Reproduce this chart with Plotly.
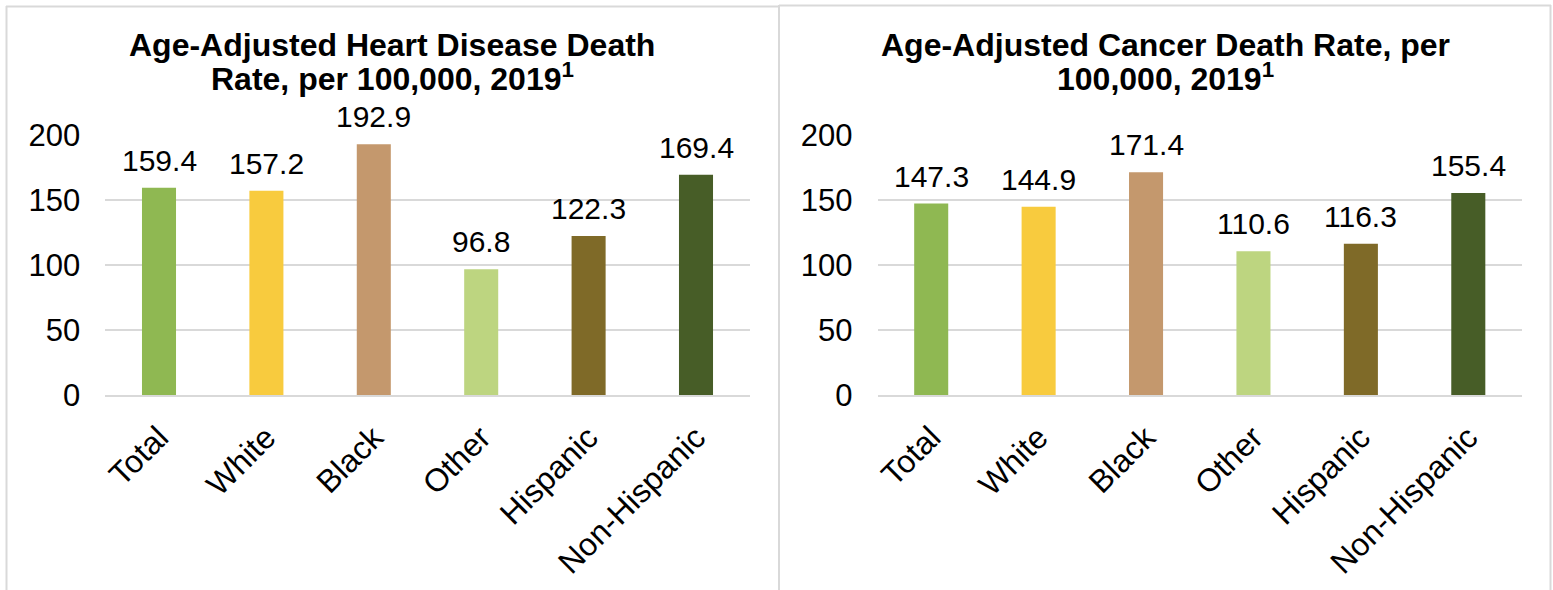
import plotly.graph_objects as go

W, H = 1553, 590

categories = ["Total", "White", "Black", "Other", "Hispanic", "Non-Hispanic"]
heart_values = [159.4, 157.2, 192.9, 96.8, 122.3, 169.4]
cancer_values = [147.3, 144.9, 171.4, 110.6, 116.3, 155.4]
bar_colors = ["#8FB852", "#F8CB3E", "#C4986D", "#BDD580", "#7F6A28", "#475D27"]
y_ticks = [0, 50, 100, 150, 200]

heart_title = ["Age-Adjusted Heart Disease Death", "Rate, per 100,000, 2019<sup>1</sup>"]
cancer_title = ["Age-Adjusted Cancer Death Rate, per", "100,000, 2019<sup>1</sup>"]

FONT = "Liberation Sans, Arial, sans-serif"
GRID = "#D9D9D9"


def px(x):
    return x / W


def py(y):
    return 1 - y / H


fig = go.Figure()
fig.add_trace(go.Bar(x=categories, y=heart_values, marker_color=bar_colors,
                     xaxis="x", yaxis="y", hoverinfo="x+y"))
fig.add_trace(go.Bar(x=categories, y=cancer_values, marker_color=bar_colors,
                     xaxis="x2", yaxis="y2", hoverinfo="x+y"))

annotations = []
for xr, yr, vals in (("x", "y", heart_values), ("x2", "y2", cancer_values)):
    for c, v in zip(categories, vals):
        annotations.append(dict(x=c, y=v, xref=xr, yref=yr, text=f"{v:.1f}",
                                showarrow=False, yanchor="bottom", yshift=9,
                                font=dict(family=FONT, size=30, color="#000000")))

for lines, cx in ((heart_title, 392), (cancer_title, 1165)):
    for i, t in enumerate(lines):
        annotations.append(dict(x=px(cx), y=py(45 + 32 * i), xref="paper", yref="paper",
                                text=f"<b>{t}</b>", showarrow=False,
                                xanchor="center", yanchor="middle",
                                font=dict(family=FONT, size=32, color="#000000")))

shapes = []
line_style = dict(color=GRID, width=2)
# left panel border
shapes.append(dict(type="line", xref="paper", yref="paper", x0=px(6.5), x1=px(6.5), y0=py(6), y1=py(600), line=line_style))
shapes.append(dict(type="line", xref="paper", yref="paper", x0=px(6), x1=px(779), y0=py(6.5), y1=py(6.5), line=line_style))
shapes.append(dict(type="line", xref="paper", yref="paper", x0=px(779), x1=px(779), y0=py(5), y1=py(600), line=line_style))
# right panel border
shapes.append(dict(type="line", xref="paper", yref="paper", x0=px(779), x1=px(1551), y0=py(5.5), y1=py(5.5), line=line_style))
shapes.append(dict(type="line", xref="paper", yref="paper", x0=px(1550.5), x1=px(1550.5), y0=py(5), y1=py(600), line=line_style))

xaxis_common = dict(tickangle=-45, showgrid=False, showline=True, linecolor=GRID, linewidth=2,
                    ticks="", ticklabelstandoff=9, fixedrange=True, automargin=False,
                    tickfont=dict(family=FONT, size=32, color="#000000"))
yaxis_common = dict(range=[0, 200], tickvals=y_ticks, showgrid=True, gridcolor=GRID, gridwidth=2,
                    zeroline=False, showline=False, ticks="", ticklabelstandoff=24, fixedrange=True,
                    automargin=False,
                    tickfont=dict(family=FONT, size=31, color="#000000"))

fig.update_layout(
    template="none",
    width=W, height=H,
    margin=dict(l=0, r=0, t=0, b=0, pad=0, autoexpand=False),
    paper_bgcolor="white", plot_bgcolor="white",
    showlegend=False,
    bargap=0.683,
    xaxis=dict(domain=[px(105.3), px(749.7)], anchor="y", **xaxis_common),
    xaxis2=dict(domain=[px(877.5), px(1522)], anchor="y2", **xaxis_common),
    yaxis=dict(domain=[py(395), py(135)], anchor="x", **yaxis_common),
    yaxis2=dict(domain=[py(395), py(135)], anchor="x2", **yaxis_common),
    annotations=annotations,
    shapes=shapes,
)

fig.write_html(
    "out.html",
    config={"displayModeBar": False},
    post_script=(
        "document.body.style.margin='0';document.body.style.padding='0';"
        "document.documentElement.style.overflow='hidden';document.body.style.overflow='hidden';"
    ),
)
